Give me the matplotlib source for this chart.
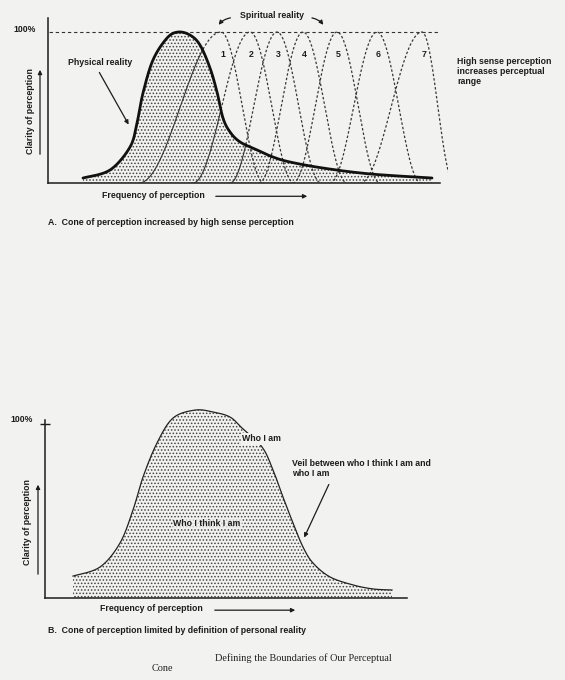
import numpy as np
import matplotlib.pyplot as plt

plt.rcParams['font.family'] = ['Liberation Sans', 'DejaVu Sans']
plt.rcParams['hatch.linewidth'] = 0.7

# Panel A: physical reality curve (frequency, clarity %)
phys_x = [8.75, 15.5, 20.5, 22.25, 23.75, 26.25, 29.75, 32.5, 35.5, 38, 40.5,
          42.25, 43.75, 45.5, 48, 52.25, 56.25, 60.5, 68.75, 80.5, 96]
phys_y = [3.3, 8.6, 23.8, 39.7, 59.6, 81.5, 96, 100, 98, 91.4, 76.2,
          60.3, 43, 33.8, 27.2, 21.9, 17.2, 13.9, 9.9, 6, 3.3]

# Panel A: spiritual bands 1-7 (peak, left foot width, right foot width)
band_labels = ['1', '2', '3', '4', '5', '6', '7']
band_peak = [43.25, 50.5, 57.25, 63.75, 72.25, 82.25, 93.5]
band_left = [20.5, 14.25, 11.75, 11, 11, 11.75, 15.5]
band_right = [10.75, 11, 11, 11, 10.75, 11, 8]

# Panel B: personal reality curve
self_x = [7, 13.75, 18.75, 22, 24.5, 28, 32, 37.5, 42, 46.25, 49.25,
          54.25, 57, 59.5, 62, 64.5, 67, 71.25, 77, 82, 86.75]
self_y = [12.6, 17.8, 31.6, 50.6, 69.5, 89.1, 103.4, 108, 106.9, 104, 97.7,
          86.8, 73.6, 58, 43.1, 29.3, 20.1, 12.1, 7.5, 5.2, 4.6]

page = '#f2f2f0'
ink = '#1c1c1c'


def smooth(xs, ys, n=20):
    p = np.column_stack([xs, ys]).astype(float)
    p = np.vstack([p[0], p, p[-1]])
    t = np.linspace(0, 1, n, endpoint=False)[:, None]
    out = []
    for i in range(1, len(p) - 2):
        p0, p1, p2, p3 = p[i - 1], p[i], p[i + 1], p[i + 2]
        out.append(0.5 * (2 * p1 + (-p0 + p2) * t + (2 * p0 - 5 * p1 + 4 * p2 - p3) * t ** 2
                          + (-p0 + 3 * p1 - 3 * p2 + p3) * t ** 3))
    out.append(p[-2][None])
    out = np.vstack(out)
    return out[:, 0], out[:, 1]


def frame(ax, ymax, ytop, xend):
    ax.set_xlim(0, 100)
    ax.set_ylim(0, ymax)
    ax.set_facecolor('none')
    for s in ['top', 'right']:
        ax.spines[s].set_visible(False)
    for s in ['left', 'bottom']:
        ax.spines[s].set_linewidth(1.1)
        ax.spines[s].set_color(ink)
    ax.spines['bottom'].set_bounds(0, xend)
    ax.spines['left'].set_bounds(0, ytop)
    ax.set_xticks([])
    ax.set_yticks([])


txt = dict(fontsize=6.3, fontweight='bold', color=ink)
arrow = dict(arrowstyle='-|>', color=ink, lw=0.9, mutation_scale=6)
stipple = dict(facecolor='none', edgecolor='#444444', hatch='.....', linewidth=0, zorder=1)

fig = plt.figure(figsize=(5.65, 6.8), dpi=100, facecolor=page)

# ---------------- A ----------------
ax = fig.add_axes([48 / 565, 1 - 183 / 680, 400 / 565, 165 / 680])
frame(ax, 109.3, 109.3, 98)

sx, sy = smooth(phys_x, phys_y)
ax.fill_between(sx, 0, sy, **stipple)
ax.plot(sx, sy, color='#111111', lw=2.0, zorder=4, solid_capstyle='round')
ax.plot([-1.2, 98], [100, 100], color='#333333', lw=0.8, ls=(0, (3, 2.5)), zorder=3)

for i, (pk, wl, wr, lab) in enumerate(zip(band_peak, band_left, band_right, band_labels)):
    x = np.linspace(pk - wl, pk + wr, 300)
    w = np.where(x < pk, wl, wr)
    y = 100 * np.cos(np.pi / 2 * (x - pk) / w) ** 2
    solid = (x < pk) & (y < np.interp(x, sx, sy)) if i < 3 else np.zeros_like(x, bool)
    ax.plot(x, np.where(solid, np.nan, y), color='#383838', lw=0.9, ls=(0, (2, 1.6)), zorder=3)
    ax.plot(x, np.where(solid, y, np.nan), color='#333333', lw=0.8, zorder=3)
    ax.text(pk + 0.4, 84.8, lab, ha='center', va='center', zorder=5, **txt)

ax.text(-3, 102, '100%', ha='right', va='center', **txt)
ax.text(5, 79.5, 'Physical reality', ha='left', va='center', **txt)
ax.annotate('', xy=(20.5, 37.1), xytext=(12.5, 74.8), arrowprops=arrow, annotation_clip=False)
ax.text(-4.4, 47.7, 'Clarity of perception', rotation=90, ha='center', va='center', **txt)
ax.annotate('', xy=(-2, 76.8), xytext=(-2, 17.2), arrowprops=arrow, annotation_clip=False)
ax.text(56, 110.8, 'Spiritual reality', ha='center', va='center', **txt)
ax.annotate('', xy=(42.25, 103.3), xytext=(46.3, 109.6),
            arrowprops=dict(arrow, connectionstyle='arc3,rad=0.25'), annotation_clip=False)
ax.annotate('', xy=(69.25, 103.3), xytext=(65.3, 109.6),
            arrowprops=dict(arrow, connectionstyle='arc3,rad=-0.25'), annotation_clip=False)
ax.text(102.25, 83.5, 'High sense perception\nincreases perceptual\nrange', ha='left', va='top',
        linespacing=1.15, **txt)
ax.text(13.5, -8.3, 'Frequency of perception', ha='left', va='center', **txt)
ax.annotate('', xy=(65.5, -8.8), xytext=(41.25, -8.8), arrowprops=arrow, annotation_clip=False)
ax.text(0, -26, 'A.  Cone of perception increased by high sense perception', ha='left', va='center', **txt)

# ---------------- B ----------------
# 1.74 px per percent; axis line stops at 102.3 % but curve rises above 100 %
bx = fig.add_axes([45 / 565, 1 - 598 / 680, 400 / 565, 200 / 680])
frame(bx, 200 / 1.74, 102.3, 90.5)
bx.set_yticks([100])
bx.set_yticklabels([])
bx.tick_params(axis='y', direction='inout', length=7, width=1.0, color=ink)

tx, ty = smooth(self_x, self_y)
bx.fill_between(tx, 0, ty, **stipple)
bx.plot(tx, ty, color='#222222', lw=0.9, zorder=4)

bx.text(-3, 102.5, '100%', ha='right', va='center', **txt)
bx.text(49.25, 91.4, 'Who I am', ha='left', va='center', zorder=6,
        bbox=dict(facecolor=page, edgecolor='none', pad=0.8), **txt)
bx.text(40.5, 43.1, 'Who I think I am', ha='center', va='center', zorder=6,
        bbox=dict(facecolor=page, edgecolor='none', pad=0.6, alpha=0.75), **txt)
bx.text(61.75, 80, 'Veil between who I think I am and\nwho I am', ha='left', va='top',
        linespacing=1.15, **txt)
bx.annotate('', xy=(64.5, 33.3), xytext=(71.25, 66.7), arrowprops=arrow, annotation_clip=False)
bx.text(-4.4, 43.7, 'Clarity of perception', rotation=90, ha='center', va='center', **txt)
bx.annotate('', xy=(-1.75, 66.7), xytext=(-1.75, 12.1), arrowprops=arrow, annotation_clip=False)
bx.text(13.75, -6.3, 'Frequency of perception', ha='left', va='center', **txt)
bx.annotate('', xy=(63.25, -7.0), xytext=(41.75, -7.0), arrowprops=arrow, annotation_clip=False)
bx.text(0.75, -18.4, 'B.  Cone of perception limited by definition of personal reality',
        ha='left', va='center', **txt)
bx.text(42.5, -34.5, 'Defining the Boundaries of Our Perceptual', ha='left', va='center',
        fontsize=7.4, family='Liberation Serif', color='#222222')
bx.text(26.75, -40.8, 'Cone', ha='left', va='center',
        fontsize=7.4, family='Liberation Serif', color='#222222')

fig.savefig('out.png', dpi=100, facecolor=page)
